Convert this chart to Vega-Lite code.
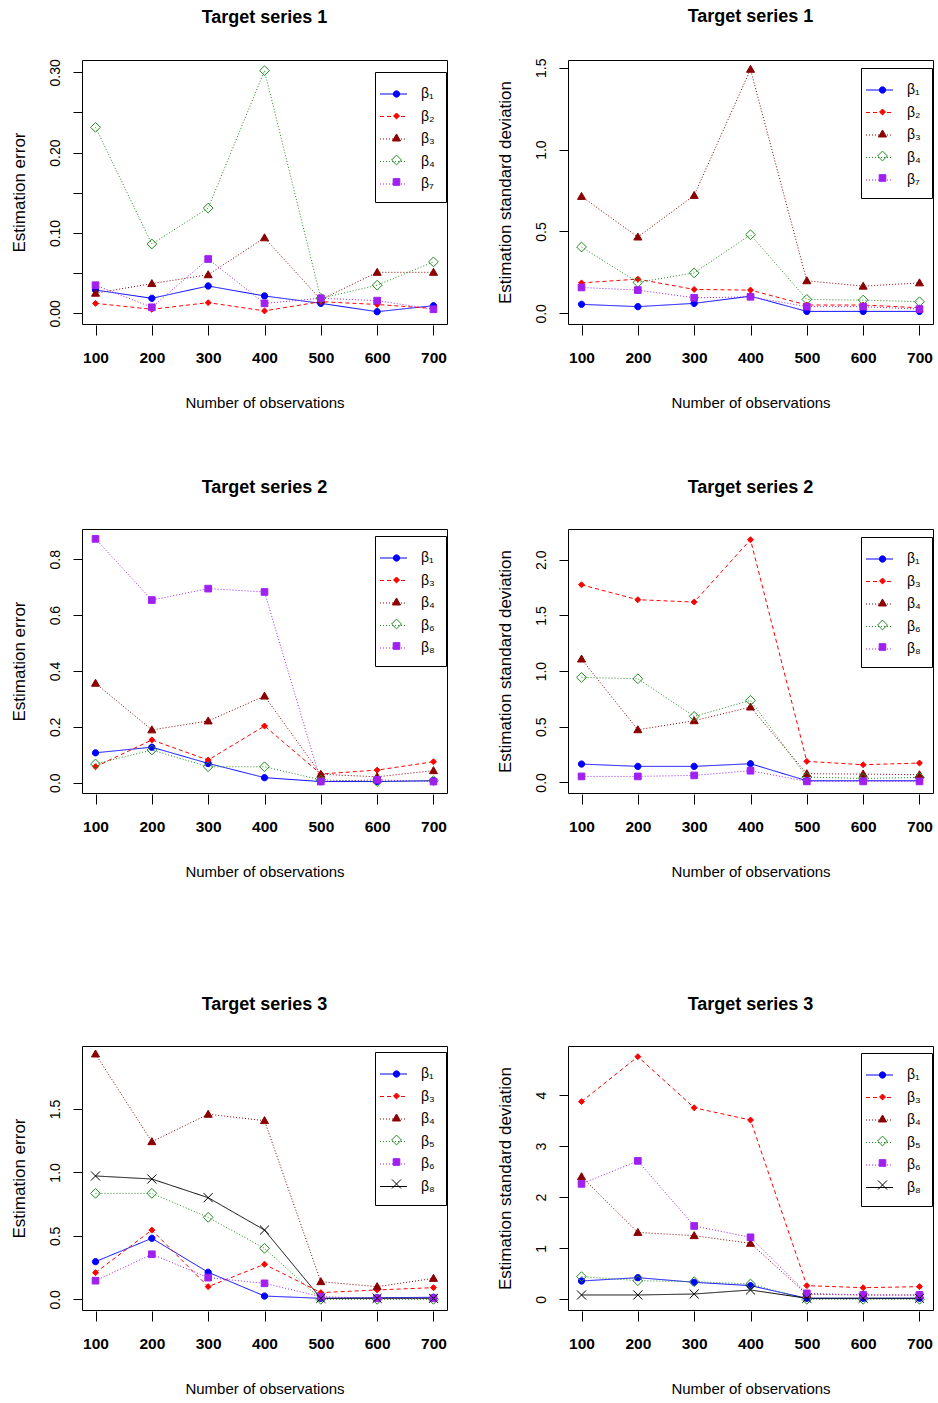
{
  "$schema": "https://vega.github.io/schema/vega-lite/v6.json",
  "background": "white",
  "padding": {"left": 9, "top": 7, "right": 0, "bottom": 0},
  "datasets": {
    "p1": [
      {"n":100,"s":"β₁","v":0.029},{"n":200,"s":"β₁","v":0.0187},{"n":300,"s":"β₁","v":0.034},{"n":400,"s":"β₁","v":0.0216},{"n":500,"s":"β₁","v":0.0124},{"n":600,"s":"β₁","v":0.002},{"n":700,"s":"β₁","v":0.0095},
      {"n":100,"s":"β₂","v":0.0124},{"n":200,"s":"β₂","v":0.005},{"n":300,"s":"β₂","v":0.0133},{"n":400,"s":"β₂","v":0.003},{"n":500,"s":"β₂","v":0.0145},{"n":600,"s":"β₂","v":0.011},{"n":700,"s":"β₂","v":0.006},
      {"n":100,"s":"β₃","v":0.025},{"n":200,"s":"β₃","v":0.037},{"n":300,"s":"β₃","v":0.048},{"n":400,"s":"β₃","v":0.094},{"n":500,"s":"β₃","v":0.017},{"n":600,"s":"β₃","v":0.051},{"n":700,"s":"β₃","v":0.051},
      {"n":100,"s":"β₄","v":0.2315},{"n":200,"s":"β₄","v":0.0863},{"n":300,"s":"β₄","v":0.131},{"n":400,"s":"β₄","v":0.302},{"n":500,"s":"β₄","v":0.0187},{"n":600,"s":"β₄","v":0.035},{"n":700,"s":"β₄","v":0.064},
      {"n":100,"s":"β₇","v":0.035},{"n":200,"s":"β₇","v":0.0075},{"n":300,"s":"β₇","v":0.0676},{"n":400,"s":"β₇","v":0.0124},{"n":500,"s":"β₇","v":0.0187},{"n":600,"s":"β₇","v":0.0158},{"n":700,"s":"β₇","v":0.005}
    ],
    "p2": [
      {"n":100,"s":"β₁","v":0.055},{"n":200,"s":"β₁","v":0.041},{"n":300,"s":"β₁","v":0.061},{"n":400,"s":"β₁","v":0.105},{"n":500,"s":"β₁","v":0.012},{"n":600,"s":"β₁","v":0.012},{"n":700,"s":"β₁","v":0.012},
      {"n":100,"s":"β₂","v":0.186},{"n":200,"s":"β₂","v":0.209},{"n":300,"s":"β₂","v":0.146},{"n":400,"s":"β₂","v":0.142},{"n":500,"s":"β₂","v":0.051},{"n":600,"s":"β₂","v":0.051},{"n":700,"s":"β₂","v":0.034},
      {"n":100,"s":"β₃","v":0.714},{"n":200,"s":"β₃","v":0.466},{"n":300,"s":"β₃","v":0.72},{"n":400,"s":"β₃","v":1.49},{"n":500,"s":"β₃","v":0.199},{"n":600,"s":"β₃","v":0.166},{"n":700,"s":"β₃","v":0.186},
      {"n":100,"s":"β₄","v":0.405},{"n":200,"s":"β₄","v":0.189},{"n":300,"s":"β₄","v":0.247},{"n":400,"s":"β₄","v":0.48},{"n":500,"s":"β₄","v":0.085},{"n":600,"s":"β₄","v":0.081},{"n":700,"s":"β₄","v":0.071},
      {"n":100,"s":"β₇","v":0.158},{"n":200,"s":"β₇","v":0.142},{"n":300,"s":"β₇","v":0.095},{"n":400,"s":"β₇","v":0.101},{"n":500,"s":"β₇","v":0.041},{"n":600,"s":"β₇","v":0.041},{"n":700,"s":"β₇","v":0.026}
    ],
    "p3": [
      {"n":100,"s":"β₁","v":0.107},{"n":200,"s":"β₁","v":0.127},{"n":300,"s":"β₁","v":0.069},{"n":400,"s":"β₁","v":0.018},{"n":500,"s":"β₁","v":0.004},{"n":600,"s":"β₁","v":0.004},{"n":700,"s":"β₁","v":0.007},
      {"n":100,"s":"β₃","v":0.057},{"n":200,"s":"β₃","v":0.153},{"n":300,"s":"β₃","v":0.081},{"n":400,"s":"β₃","v":0.203},{"n":500,"s":"β₃","v":0.031},{"n":600,"s":"β₃","v":0.045},{"n":700,"s":"β₃","v":0.075},
      {"n":100,"s":"β₄","v":0.356},{"n":200,"s":"β₄","v":0.189},{"n":300,"s":"β₄","v":0.221},{"n":400,"s":"β₄","v":0.31},{"n":500,"s":"β₄","v":0.03},{"n":600,"s":"β₄","v":0.021},{"n":700,"s":"β₄","v":0.043},
      {"n":100,"s":"β₆","v":0.067},{"n":200,"s":"β₆","v":0.117},{"n":300,"s":"β₆","v":0.057},{"n":400,"s":"β₆","v":0.057},{"n":500,"s":"β₆","v":0.01},{"n":600,"s":"β₆","v":0.004},{"n":700,"s":"β₆","v":0.007},
      {"n":100,"s":"β₈","v":0.873},{"n":200,"s":"β₈","v":0.654},{"n":300,"s":"β₈","v":0.695},{"n":400,"s":"β₈","v":0.683},{"n":500,"s":"β₈","v":0.004},{"n":600,"s":"β₈","v":0.01},{"n":700,"s":"β₈","v":0.004}
    ],
    "p4": [
      {"n":100,"s":"β₁","v":0.165},{"n":200,"s":"β₁","v":0.144},{"n":300,"s":"β₁","v":0.144},{"n":400,"s":"β₁","v":0.168},{"n":500,"s":"β₁","v":0.015},{"n":600,"s":"β₁","v":0.015},{"n":700,"s":"β₁","v":0.015},
      {"n":100,"s":"β₃","v":1.775},{"n":200,"s":"β₃","v":1.641},{"n":300,"s":"β₃","v":1.62},{"n":400,"s":"β₃","v":2.18},{"n":500,"s":"β₃","v":0.189},{"n":600,"s":"β₃","v":0.159},{"n":700,"s":"β₃","v":0.174},
      {"n":100,"s":"β₄","v":1.108},{"n":200,"s":"β₄","v":0.473},{"n":300,"s":"β₄","v":0.554},{"n":400,"s":"β₄","v":0.677},{"n":500,"s":"β₄","v":0.078},{"n":600,"s":"β₄","v":0.075},{"n":700,"s":"β₄","v":0.069},
      {"n":100,"s":"β₆","v":0.943},{"n":200,"s":"β₆","v":0.931},{"n":300,"s":"β₆","v":0.593},{"n":400,"s":"β₆","v":0.737},{"n":500,"s":"β₆","v":0.048},{"n":600,"s":"β₆","v":0.036},{"n":700,"s":"β₆","v":0.045},
      {"n":100,"s":"β₈","v":0.054},{"n":200,"s":"β₈","v":0.054},{"n":300,"s":"β₈","v":0.063},{"n":400,"s":"β₈","v":0.105},{"n":500,"s":"β₈","v":0.009},{"n":600,"s":"β₈","v":0.009},{"n":700,"s":"β₈","v":0.009}
    ],
    "p5": [
      {"n":100,"s":"β₁","v":0.297},{"n":200,"s":"β₁","v":0.481},{"n":300,"s":"β₁","v":0.213},{"n":400,"s":"β₁","v":0.026},{"n":500,"s":"β₁","v":0.008},{"n":600,"s":"β₁","v":0.013},{"n":700,"s":"β₁","v":0.016},
      {"n":100,"s":"β₃","v":0.21},{"n":200,"s":"β₃","v":0.546},{"n":300,"s":"β₃","v":0.1},{"n":400,"s":"β₃","v":0.276},{"n":500,"s":"β₃","v":0.053},{"n":600,"s":"β₃","v":0.074},{"n":700,"s":"β₃","v":0.092},
      {"n":100,"s":"β₄","v":1.933},{"n":200,"s":"β₄","v":1.242},{"n":300,"s":"β₄","v":1.458},{"n":400,"s":"β₄","v":1.408},{"n":500,"s":"β₄","v":0.139},{"n":600,"s":"β₄","v":0.1},{"n":700,"s":"β₄","v":0.165},
      {"n":100,"s":"β₅","v":0.835},{"n":200,"s":"β₅","v":0.835},{"n":300,"s":"β₅","v":0.646},{"n":400,"s":"β₅","v":0.402},{"n":500,"s":"β₅","v":0.0},{"n":600,"s":"β₅","v":0.0},{"n":700,"s":"β₅","v":0.0},
      {"n":100,"s":"β₆","v":0.147},{"n":200,"s":"β₆","v":0.355},{"n":300,"s":"β₆","v":0.171},{"n":400,"s":"β₆","v":0.126},{"n":500,"s":"β₆","v":0.021},{"n":600,"s":"β₆","v":0.008},{"n":700,"s":"β₆","v":0.008},
      {"n":100,"s":"β₈","v":0.972},{"n":200,"s":"β₈","v":0.948},{"n":300,"s":"β₈","v":0.801},{"n":400,"s":"β₈","v":0.546},{"n":500,"s":"β₈","v":0.008},{"n":600,"s":"β₈","v":0.008},{"n":700,"s":"β₈","v":0.008}
    ],
    "p6": [
      {"n":100,"s":"β₁","v":0.359},{"n":200,"s":"β₁","v":0.424},{"n":300,"s":"β₁","v":0.333},{"n":400,"s":"β₁","v":0.268},{"n":500,"s":"β₁","v":0.02},{"n":600,"s":"β₁","v":0.02},{"n":700,"s":"β₁","v":0.02},
      {"n":100,"s":"β₃","v":3.87},{"n":200,"s":"β₃","v":4.75},{"n":300,"s":"β₃","v":3.75},{"n":400,"s":"β₃","v":3.51},{"n":500,"s":"β₃","v":0.268},{"n":600,"s":"β₃","v":0.228},{"n":700,"s":"β₃","v":0.248},
      {"n":100,"s":"β₄","v":2.4},{"n":200,"s":"β₄","v":1.31},{"n":300,"s":"β₄","v":1.246},{"n":400,"s":"β₄","v":1.096},{"n":500,"s":"β₄","v":0.098},{"n":600,"s":"β₄","v":0.085},{"n":700,"s":"β₄","v":0.085},
      {"n":100,"s":"β₅","v":0.444},{"n":200,"s":"β₅","v":0.365},{"n":300,"s":"β₅","v":0.346},{"n":400,"s":"β₅","v":0.3},{"n":500,"s":"β₅","v":0.0},{"n":600,"s":"β₅","v":0.0},{"n":700,"s":"β₅","v":0.0},
      {"n":100,"s":"β₆","v":2.26},{"n":200,"s":"β₆","v":2.71},{"n":300,"s":"β₆","v":1.436},{"n":400,"s":"β₆","v":1.214},{"n":500,"s":"β₆","v":0.117},{"n":600,"s":"β₆","v":0.085},{"n":700,"s":"β₆","v":0.085},
      {"n":100,"s":"β₈","v":0.085},{"n":200,"s":"β₈","v":0.085},{"n":300,"s":"β₈","v":0.104},{"n":400,"s":"β₈","v":0.183},{"n":500,"s":"β₈","v":0.02},{"n":600,"s":"β₈","v":0.02},{"n":700,"s":"β₈","v":0.02}
    ]
  },
  "spacing": 115,
  "resolve": {"scale": {"color": "independent", "strokeDash": "independent", "fill": "independent", "stroke": "independent", "shape": "independent"}, "legend": {"color": "independent", "strokeDash": "independent", "fill": "independent", "stroke": "independent", "shape": "independent"}},
  "vconcat": [
    {
      "spacing": 67,
      "resolve": {"scale": {"color": "independent", "strokeDash": "independent", "fill": "independent", "stroke": "independent", "shape": "independent"}, "legend": {"color": "independent", "strokeDash": "independent", "fill": "independent", "stroke": "independent", "shape": "independent"}},
      "vconcat": [
        {
          "spacing": 47,
          "resolve": {"scale": {"color": "independent", "strokeDash": "independent", "fill": "independent", "stroke": "independent", "shape": "independent"}, "legend": {"color": "independent", "strokeDash": "independent", "fill": "independent", "stroke": "independent", "shape": "independent"}},
          "hconcat": [
            {
              "width": 365, "height": 264,
              "title": "Target series 1",
              "data": {"name": "p1"},
              "encoding": {
                "x": {"field": "n", "type": "quantitative", "scale": {"domain": [76, 724], "nice": false, "zero": false}, "axis": {"values": [100,200,300,400,500,600,700], "title": "Number of observations"}},
                "y": {"field": "v", "type": "quantitative", "scale": {"domain": [-0.0133, 0.3153], "nice": false, "zero": false}, "axis": {"values": [0,0.05,0.1,0.15,0.2,0.25,0.3], "labelExpr": "round(datum.value*100) % 10 == 0 ? format(datum.value, '.2f') : ''", "title": "Estimation error"}}
              },
              "layer": [
                {"mark": {"type": "line", "strokeWidth": 1},
                 "encoding": {
                   "color": {"field": "s", "type": "nominal", "scale": {"domain": ["β₁","β₂","β₃","β₄","β₇"], "range": ["#0000FF","#FF0000","#8B0000","#228B22","#A020F0","#000000"]}, "legend": {"title": null, "orient": "none", "legendX": 293, "legendY": 12, "symbolType": "M-1.619,0H0.952", "symbolSize": 441, "symbolStrokeWidth": 1, "padding": 11, "rowPadding": 4.5, "labelOffset": 13, "labelFontSize": 14, "strokeColor": "black", "fillColor": "white"}},
                   "strokeDash": {"field": "s", "type": "nominal", "scale": {"domain": ["β₁","β₂","β₃","β₄","β₇"], "range": [[1,0],[4,3],[1,2],[1,2],[1,2],[1,0]]}, "legend": {"title": null, "orient": "none", "legendX": 293, "legendY": 12, "symbolType": "M-1.619,0H0.952", "symbolSize": 441, "symbolStrokeWidth": 1, "padding": 11, "rowPadding": 4.5, "labelOffset": 13, "labelFontSize": 14, "strokeColor": "black", "fillColor": "white"}}
                 }},
                {"mark": {"type": "point", "filled": true, "opacity": 1, "size": 49, "strokeWidth": 1},
                 "encoding": {
                   "fill": {"field": "s", "type": "nominal", "scale": {"range": ["#0000FF","#FF0000","#8B0000","transparent","#A020F0","transparent"]}, "legend": {"title": null, "orient": "none", "legendX": 296.5, "legendY": 16, "symbolSize": 49, "symbolStrokeWidth": 1, "symbolOpacity": 1, "padding": 11, "rowPadding": 8, "labelOffset": 14, "labelFontSize": 14, "labelOpacity": 0, "labelExpr": "' '"}},
                   "stroke": {"field": "s", "type": "nominal", "scale": {"range": ["#0000FF","#FF0000","#8B0000","#228B22","#A020F0","#000000"]}, "legend": {"title": null, "orient": "none", "legendX": 296.5, "legendY": 16, "symbolSize": 49, "symbolStrokeWidth": 1, "symbolOpacity": 1, "padding": 11, "rowPadding": 8, "labelOffset": 14, "labelFontSize": 14, "labelOpacity": 0, "labelExpr": "' '"}},
                   "shape": {"field": "s", "type": "nominal", "scale": {"range": ["M-0.9,0A0.9,0.9 0 1,0 0.9,0A0.9,0.9 0 1,0 -0.9,0Z","M0,-0.85L0.85,0L0,0.85L-0.85,0Z","M0,-1.15L1.15,0.85L-1.15,0.85Z","M0,-1.4L1.4,0L0,1.4L-1.4,0Z","M-0.95,-0.95H0.95V0.95H-0.95Z","M-1.3,-1.3L1.3,1.3M-1.3,1.3L1.3,-1.3"]}, "legend": {"title": null, "orient": "none", "legendX": 296.5, "legendY": 16, "symbolSize": 49, "symbolStrokeWidth": 1, "symbolOpacity": 1, "padding": 11, "rowPadding": 8, "labelOffset": 14, "labelFontSize": 14, "labelOpacity": 0, "labelExpr": "' '"}}
                 }}
              ]
            },
            {
              "width": 365, "height": 264,
              "title": "Target series 1",
              "data": {"name": "p2"},
              "encoding": {
                "x": {"field": "n", "type": "quantitative", "scale": {"domain": [76, 724], "nice": false, "zero": false}, "axis": {"values": [100,200,300,400,500,600,700], "title": "Number of observations"}},
                "y": {"field": "v", "type": "quantitative", "scale": {"domain": [-0.065, 1.547], "nice": false, "zero": false}, "axis": {"values": [0,0.5,1,1.5], "format": ".1f", "title": "Estimation standard deviation"}}
              },
              "layer": [
                {"mark": {"type": "line", "strokeWidth": 1},
                 "encoding": {
                   "color": {"field": "s", "type": "nominal", "scale": {"domain": ["β₁","β₂","β₃","β₄","β₇"], "range": ["#0000FF","#FF0000","#8B0000","#228B22","#A020F0","#000000"]}, "legend": {"title": null, "orient": "none", "legendX": 293, "legendY": 8, "symbolType": "M-1.619,0H0.952", "symbolSize": 441, "symbolStrokeWidth": 1, "padding": 11, "rowPadding": 4.5, "labelOffset": 13, "labelFontSize": 14, "strokeColor": "black", "fillColor": "white"}},
                   "strokeDash": {"field": "s", "type": "nominal", "scale": {"domain": ["β₁","β₂","β₃","β₄","β₇"], "range": [[1,0],[4,3],[1,2],[1,2],[1,2],[1,0]]}, "legend": {"title": null, "orient": "none", "legendX": 293, "legendY": 8, "symbolType": "M-1.619,0H0.952", "symbolSize": 441, "symbolStrokeWidth": 1, "padding": 11, "rowPadding": 4.5, "labelOffset": 13, "labelFontSize": 14, "strokeColor": "black", "fillColor": "white"}}
                 }},
                {"mark": {"type": "point", "filled": true, "opacity": 1, "size": 49, "strokeWidth": 1},
                 "encoding": {
                   "fill": {"field": "s", "type": "nominal", "scale": {"range": ["#0000FF","#FF0000","#8B0000","transparent","#A020F0","transparent"]}, "legend": {"title": null, "orient": "none", "legendX": 296.5, "legendY": 12, "symbolSize": 49, "symbolStrokeWidth": 1, "symbolOpacity": 1, "padding": 11, "rowPadding": 8, "labelOffset": 14, "labelFontSize": 14, "labelOpacity": 0, "labelExpr": "' '"}},
                   "stroke": {"field": "s", "type": "nominal", "scale": {"range": ["#0000FF","#FF0000","#8B0000","#228B22","#A020F0","#000000"]}, "legend": {"title": null, "orient": "none", "legendX": 296.5, "legendY": 12, "symbolSize": 49, "symbolStrokeWidth": 1, "symbolOpacity": 1, "padding": 11, "rowPadding": 8, "labelOffset": 14, "labelFontSize": 14, "labelOpacity": 0, "labelExpr": "' '"}},
                   "shape": {"field": "s", "type": "nominal", "scale": {"range": ["M-0.9,0A0.9,0.9 0 1,0 0.9,0A0.9,0.9 0 1,0 -0.9,0Z","M0,-0.85L0.85,0L0,0.85L-0.85,0Z","M0,-1.15L1.15,0.85L-1.15,0.85Z","M0,-1.4L1.4,0L0,1.4L-1.4,0Z","M-0.95,-0.95H0.95V0.95H-0.95Z","M-1.3,-1.3L1.3,1.3M-1.3,1.3L1.3,-1.3"]}, "legend": {"title": null, "orient": "none", "legendX": 296.5, "legendY": 12, "symbolSize": 49, "symbolStrokeWidth": 1, "symbolOpacity": 1, "padding": 11, "rowPadding": 8, "labelOffset": 14, "labelFontSize": 14, "labelOpacity": 0, "labelExpr": "' '"}}
                 }}
              ]
            }
          ]
        },
        {
          "spacing": 47,
          "resolve": {"scale": {"color": "independent", "strokeDash": "independent", "fill": "independent", "stroke": "independent", "shape": "independent"}, "legend": {"color": "independent", "strokeDash": "independent", "fill": "independent", "stroke": "independent", "shape": "independent"}},
          "hconcat": [
            {
              "width": 365, "height": 264,
              "title": "Target series 2",
              "data": {"name": "p3"},
              "encoding": {
                "x": {"field": "n", "type": "quantitative", "scale": {"domain": [76, 724], "nice": false, "zero": false}, "axis": {"values": [100,200,300,400,500,600,700], "title": "Number of observations"}},
                "y": {"field": "v", "type": "quantitative", "scale": {"domain": [-0.037, 0.9085], "nice": false, "zero": false}, "axis": {"values": [0,0.2,0.4,0.6,0.8], "format": ".1f", "title": "Estimation error"}}
              },
              "layer": [
                {"mark": {"type": "line", "strokeWidth": 1},
                 "encoding": {
                   "color": {"field": "s", "type": "nominal", "scale": {"domain": ["β₁","β₃","β₄","β₆","β₈"], "range": ["#0000FF","#FF0000","#8B0000","#228B22","#A020F0","#000000"]}, "legend": {"title": null, "orient": "none", "legendX": 293, "legendY": 7, "symbolType": "M-1.619,0H0.952", "symbolSize": 441, "symbolStrokeWidth": 1, "padding": 11, "rowPadding": 4.5, "labelOffset": 13, "labelFontSize": 14, "strokeColor": "black", "fillColor": "white"}},
                   "strokeDash": {"field": "s", "type": "nominal", "scale": {"domain": ["β₁","β₃","β₄","β₆","β₈"], "range": [[1,0],[4,3],[1,2],[1,2],[1,2],[1,0]]}, "legend": {"title": null, "orient": "none", "legendX": 293, "legendY": 7, "symbolType": "M-1.619,0H0.952", "symbolSize": 441, "symbolStrokeWidth": 1, "padding": 11, "rowPadding": 4.5, "labelOffset": 13, "labelFontSize": 14, "strokeColor": "black", "fillColor": "white"}}
                 }},
                {"mark": {"type": "point", "filled": true, "opacity": 1, "size": 49, "strokeWidth": 1},
                 "encoding": {
                   "fill": {"field": "s", "type": "nominal", "scale": {"range": ["#0000FF","#FF0000","#8B0000","transparent","#A020F0","transparent"]}, "legend": {"title": null, "orient": "none", "legendX": 296.5, "legendY": 11, "symbolSize": 49, "symbolStrokeWidth": 1, "symbolOpacity": 1, "padding": 11, "rowPadding": 8, "labelOffset": 14, "labelFontSize": 14, "labelOpacity": 0, "labelExpr": "' '"}},
                   "stroke": {"field": "s", "type": "nominal", "scale": {"range": ["#0000FF","#FF0000","#8B0000","#228B22","#A020F0","#000000"]}, "legend": {"title": null, "orient": "none", "legendX": 296.5, "legendY": 11, "symbolSize": 49, "symbolStrokeWidth": 1, "symbolOpacity": 1, "padding": 11, "rowPadding": 8, "labelOffset": 14, "labelFontSize": 14, "labelOpacity": 0, "labelExpr": "' '"}},
                   "shape": {"field": "s", "type": "nominal", "scale": {"range": ["M-0.9,0A0.9,0.9 0 1,0 0.9,0A0.9,0.9 0 1,0 -0.9,0Z","M0,-0.85L0.85,0L0,0.85L-0.85,0Z","M0,-1.15L1.15,0.85L-1.15,0.85Z","M0,-1.4L1.4,0L0,1.4L-1.4,0Z","M-0.95,-0.95H0.95V0.95H-0.95Z","M-1.3,-1.3L1.3,1.3M-1.3,1.3L1.3,-1.3"]}, "legend": {"title": null, "orient": "none", "legendX": 296.5, "legendY": 11, "symbolSize": 49, "symbolStrokeWidth": 1, "symbolOpacity": 1, "padding": 11, "rowPadding": 8, "labelOffset": 14, "labelFontSize": 14, "labelOpacity": 0, "labelExpr": "' '"}}
                 }}
              ]
            },
            {
              "width": 365, "height": 264,
              "title": "Target series 2",
              "data": {"name": "p4"},
              "encoding": {
                "x": {"field": "n", "type": "quantitative", "scale": {"domain": [76, 724], "nice": false, "zero": false}, "axis": {"values": [100,200,300,400,500,600,700], "title": "Number of observations"}},
                "y": {"field": "v", "type": "quantitative", "scale": {"domain": [-0.095, 2.276], "nice": false, "zero": false}, "axis": {"values": [0,0.5,1,1.5,2], "format": ".1f", "title": "Estimation standard deviation"}}
              },
              "layer": [
                {"mark": {"type": "line", "strokeWidth": 1},
                 "encoding": {
                   "color": {"field": "s", "type": "nominal", "scale": {"domain": ["β₁","β₃","β₄","β₆","β₈"], "range": ["#0000FF","#FF0000","#8B0000","#228B22","#A020F0","#000000"]}, "legend": {"title": null, "orient": "none", "legendX": 293, "legendY": 8, "symbolType": "M-1.619,0H0.952", "symbolSize": 441, "symbolStrokeWidth": 1, "padding": 11, "rowPadding": 4.5, "labelOffset": 13, "labelFontSize": 14, "strokeColor": "black", "fillColor": "white"}},
                   "strokeDash": {"field": "s", "type": "nominal", "scale": {"domain": ["β₁","β₃","β₄","β₆","β₈"], "range": [[1,0],[4,3],[1,2],[1,2],[1,2],[1,0]]}, "legend": {"title": null, "orient": "none", "legendX": 293, "legendY": 8, "symbolType": "M-1.619,0H0.952", "symbolSize": 441, "symbolStrokeWidth": 1, "padding": 11, "rowPadding": 4.5, "labelOffset": 13, "labelFontSize": 14, "strokeColor": "black", "fillColor": "white"}}
                 }},
                {"mark": {"type": "point", "filled": true, "opacity": 1, "size": 49, "strokeWidth": 1},
                 "encoding": {
                   "fill": {"field": "s", "type": "nominal", "scale": {"range": ["#0000FF","#FF0000","#8B0000","transparent","#A020F0","transparent"]}, "legend": {"title": null, "orient": "none", "legendX": 296.5, "legendY": 12, "symbolSize": 49, "symbolStrokeWidth": 1, "symbolOpacity": 1, "padding": 11, "rowPadding": 8, "labelOffset": 14, "labelFontSize": 14, "labelOpacity": 0, "labelExpr": "' '"}},
                   "stroke": {"field": "s", "type": "nominal", "scale": {"range": ["#0000FF","#FF0000","#8B0000","#228B22","#A020F0","#000000"]}, "legend": {"title": null, "orient": "none", "legendX": 296.5, "legendY": 12, "symbolSize": 49, "symbolStrokeWidth": 1, "symbolOpacity": 1, "padding": 11, "rowPadding": 8, "labelOffset": 14, "labelFontSize": 14, "labelOpacity": 0, "labelExpr": "' '"}},
                   "shape": {"field": "s", "type": "nominal", "scale": {"range": ["M-0.9,0A0.9,0.9 0 1,0 0.9,0A0.9,0.9 0 1,0 -0.9,0Z","M0,-0.85L0.85,0L0,0.85L-0.85,0Z","M0,-1.15L1.15,0.85L-1.15,0.85Z","M0,-1.4L1.4,0L0,1.4L-1.4,0Z","M-0.95,-0.95H0.95V0.95H-0.95Z","M-1.3,-1.3L1.3,1.3M-1.3,1.3L1.3,-1.3"]}, "legend": {"title": null, "orient": "none", "legendX": 296.5, "legendY": 12, "symbolSize": 49, "symbolStrokeWidth": 1, "symbolOpacity": 1, "padding": 11, "rowPadding": 8, "labelOffset": 14, "labelFontSize": 14, "labelOpacity": 0, "labelExpr": "' '"}}
                 }}
              ]
            }
          ]
        }
      ]
    },
    {
      "spacing": 47,
      "resolve": {"scale": {"color": "independent", "strokeDash": "independent", "fill": "independent", "stroke": "independent", "shape": "independent"}, "legend": {"color": "independent", "strokeDash": "independent", "fill": "independent", "stroke": "independent", "shape": "independent"}},
      "hconcat": [
        {
          "width": 365, "height": 264,
          "title": "Target series 3",
          "data": {"name": "p5"},
          "encoding": {
            "x": {"field": "n", "type": "quantitative", "scale": {"domain": [76, 724], "nice": false, "zero": false}, "axis": {"values": [100,200,300,400,500,600,700], "title": "Number of observations"}},
            "y": {"field": "v", "type": "quantitative", "scale": {"domain": [-0.084, 1.996], "nice": false, "zero": false}, "axis": {"values": [0,0.5,1,1.5], "format": ".1f", "title": "Estimation error"}}
          },
          "layer": [
            {"mark": {"type": "line", "strokeWidth": 1},
             "encoding": {
               "color": {"field": "s", "type": "nominal", "scale": {"domain": ["β₁","β₃","β₄","β₅","β₆","β₈"], "range": ["#0000FF","#FF0000","#8B0000","#228B22","#A020F0","#000000"]}, "legend": {"title": null, "orient": "none", "legendX": 293, "legendY": 6, "symbolType": "M-1.619,0H0.952", "symbolSize": 441, "symbolStrokeWidth": 1, "padding": 11, "rowPadding": 4.5, "labelOffset": 13, "labelFontSize": 14, "strokeColor": "black", "fillColor": "white"}},
               "strokeDash": {"field": "s", "type": "nominal", "scale": {"domain": ["β₁","β₃","β₄","β₅","β₆","β₈"], "range": [[1,0],[4,3],[1,2],[1,2],[1,2],[1,0]]}, "legend": {"title": null, "orient": "none", "legendX": 293, "legendY": 6, "symbolType": "M-1.619,0H0.952", "symbolSize": 441, "symbolStrokeWidth": 1, "padding": 11, "rowPadding": 4.5, "labelOffset": 13, "labelFontSize": 14, "strokeColor": "black", "fillColor": "white"}}
             }},
            {"mark": {"type": "point", "filled": true, "opacity": 1, "size": 49, "strokeWidth": 1},
             "encoding": {
               "fill": {"field": "s", "type": "nominal", "scale": {"range": ["#0000FF","#FF0000","#8B0000","transparent","#A020F0","transparent"]}, "legend": {"title": null, "orient": "none", "legendX": 296.5, "legendY": 10, "symbolSize": 49, "symbolStrokeWidth": 1, "symbolOpacity": 1, "padding": 11, "rowPadding": 8, "labelOffset": 14, "labelFontSize": 14, "labelOpacity": 0, "labelExpr": "' '"}},
               "stroke": {"field": "s", "type": "nominal", "scale": {"range": ["#0000FF","#FF0000","#8B0000","#228B22","#A020F0","#000000"]}, "legend": {"title": null, "orient": "none", "legendX": 296.5, "legendY": 10, "symbolSize": 49, "symbolStrokeWidth": 1, "symbolOpacity": 1, "padding": 11, "rowPadding": 8, "labelOffset": 14, "labelFontSize": 14, "labelOpacity": 0, "labelExpr": "' '"}},
               "shape": {"field": "s", "type": "nominal", "scale": {"range": ["M-0.9,0A0.9,0.9 0 1,0 0.9,0A0.9,0.9 0 1,0 -0.9,0Z","M0,-0.85L0.85,0L0,0.85L-0.85,0Z","M0,-1.15L1.15,0.85L-1.15,0.85Z","M0,-1.4L1.4,0L0,1.4L-1.4,0Z","M-0.95,-0.95H0.95V0.95H-0.95Z","M-1.3,-1.3L1.3,1.3M-1.3,1.3L1.3,-1.3"]}, "legend": {"title": null, "orient": "none", "legendX": 296.5, "legendY": 10, "symbolSize": 49, "symbolStrokeWidth": 1, "symbolOpacity": 1, "padding": 11, "rowPadding": 8, "labelOffset": 14, "labelFontSize": 14, "labelOpacity": 0, "labelExpr": "' '"}}
             }}
          ]
        },
        {
          "width": 365, "height": 264,
          "title": "Target series 3",
          "data": {"name": "p6"},
          "encoding": {
            "x": {"field": "n", "type": "quantitative", "scale": {"domain": [76, 724], "nice": false, "zero": false}, "axis": {"values": [100,200,300,400,500,600,700], "title": "Number of observations"}},
            "y": {"field": "v", "type": "quantitative", "scale": {"domain": [-0.209, 4.959], "nice": false, "zero": false}, "axis": {"values": [0,1,2,3,4], "format": "d", "title": "Estimation standard deviation"}}
          },
          "layer": [
            {"mark": {"type": "line", "strokeWidth": 1},
             "encoding": {
               "color": {"field": "s", "type": "nominal", "scale": {"domain": ["β₁","β₃","β₄","β₅","β₆","β₈"], "range": ["#0000FF","#FF0000","#8B0000","#228B22","#A020F0","#000000"]}, "legend": {"title": null, "orient": "none", "legendX": 293, "legendY": 7, "symbolType": "M-1.619,0H0.952", "symbolSize": 441, "symbolStrokeWidth": 1, "padding": 11, "rowPadding": 4.5, "labelOffset": 13, "labelFontSize": 14, "strokeColor": "black", "fillColor": "white"}},
               "strokeDash": {"field": "s", "type": "nominal", "scale": {"domain": ["β₁","β₃","β₄","β₅","β₆","β₈"], "range": [[1,0],[4,3],[1,2],[1,2],[1,2],[1,0]]}, "legend": {"title": null, "orient": "none", "legendX": 293, "legendY": 7, "symbolType": "M-1.619,0H0.952", "symbolSize": 441, "symbolStrokeWidth": 1, "padding": 11, "rowPadding": 4.5, "labelOffset": 13, "labelFontSize": 14, "strokeColor": "black", "fillColor": "white"}}
             }},
            {"mark": {"type": "point", "filled": true, "opacity": 1, "size": 49, "strokeWidth": 1},
             "encoding": {
               "fill": {"field": "s", "type": "nominal", "scale": {"range": ["#0000FF","#FF0000","#8B0000","transparent","#A020F0","transparent"]}, "legend": {"title": null, "orient": "none", "legendX": 296.5, "legendY": 11, "symbolSize": 49, "symbolStrokeWidth": 1, "symbolOpacity": 1, "padding": 11, "rowPadding": 8, "labelOffset": 14, "labelFontSize": 14, "labelOpacity": 0, "labelExpr": "' '"}},
               "stroke": {"field": "s", "type": "nominal", "scale": {"range": ["#0000FF","#FF0000","#8B0000","#228B22","#A020F0","#000000"]}, "legend": {"title": null, "orient": "none", "legendX": 296.5, "legendY": 11, "symbolSize": 49, "symbolStrokeWidth": 1, "symbolOpacity": 1, "padding": 11, "rowPadding": 8, "labelOffset": 14, "labelFontSize": 14, "labelOpacity": 0, "labelExpr": "' '"}},
               "shape": {"field": "s", "type": "nominal", "scale": {"range": ["M-0.9,0A0.9,0.9 0 1,0 0.9,0A0.9,0.9 0 1,0 -0.9,0Z","M0,-0.85L0.85,0L0,0.85L-0.85,0Z","M0,-1.15L1.15,0.85L-1.15,0.85Z","M0,-1.4L1.4,0L0,1.4L-1.4,0Z","M-0.95,-0.95H0.95V0.95H-0.95Z","M-1.3,-1.3L1.3,1.3M-1.3,1.3L1.3,-1.3"]}, "legend": {"title": null, "orient": "none", "legendX": 296.5, "legendY": 11, "symbolSize": 49, "symbolStrokeWidth": 1, "symbolOpacity": 1, "padding": 11, "rowPadding": 8, "labelOffset": 14, "labelFontSize": 14, "labelOpacity": 0, "labelExpr": "' '"}}
             }}
          ]
        }
      ]
    }
  ],
  "config": {
    "font": "Liberation Sans",
    "view": {"stroke": "black", "strokeWidth": 1},
    "title": {"fontSize": 18, "fontWeight": "bold", "color": "black", "offset": 32, "anchor": "middle"},
    "axis": {"grid": false, "domain": false, "tickColor": "black", "labelColor": "black", "titleColor": "black", "titleFontWeight": "normal", "labelOverlap": false, "labelFlush": false},
    "axisX": {"tickSize": 10, "offset": 1, "labelFontSize": 15.5, "labelFontWeight": "bold", "labelPadding": 15, "titleFontSize": 15, "titlePadding": 30},
    "axisY": {"tickSize": 9, "labelFontSize": 14, "labelAngle": -90, "labelPadding": 11, "titleFontSize": 17, "titlePadding": 20},
    "legend": {"labelColor": "black"}
  }
}
